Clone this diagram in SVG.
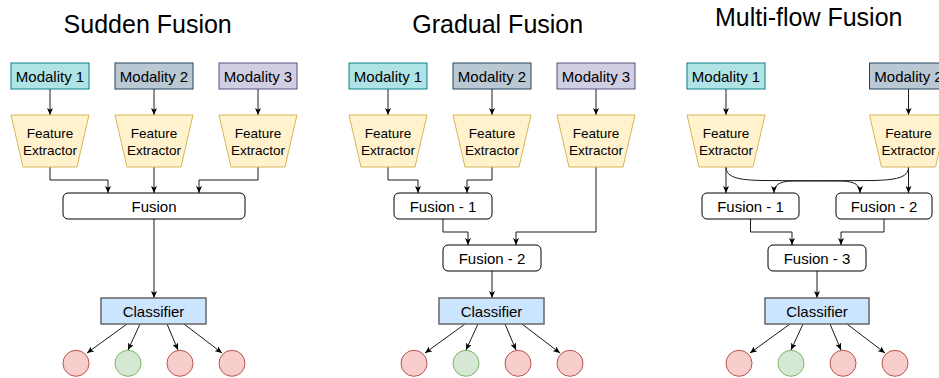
<svg xmlns="http://www.w3.org/2000/svg" width="939" height="378" viewBox="0 0 939 378">
<style>
text{font-family:"Liberation Sans",Arial,sans-serif;fill:#000;text-anchor:middle}
.title{font-size:25px}
.lbl{font-size:15px}
.fe{font-size:13.5px}
.m1{fill:#b0e3e6;stroke:#0e8088}
.m2{fill:#bac8d3;stroke:#23445d}
.m3{fill:#d0cee2;stroke:#56517e}
.trap{fill:#fff2cc;stroke:#d6b656}
.fus{fill:#fff;stroke:#000}
.cls{fill:#cce5ff;stroke:#666;stroke-width:1.5}
.red{fill:#f8cecc;stroke:#b85450}
.green{fill:#d5e8d4;stroke:#82b366}
.edge{fill:none;stroke:#1a1a1a;stroke-width:1;marker-end:url(#arr)}
</style>
<defs>
<marker id="arr" viewBox="0 0 7 6" markerWidth="7" markerHeight="6" refX="7" refY="3" orient="auto" markerUnits="userSpaceOnUse">
<path d="M0,0 L7,3 L0,6 L1.8,3 z" fill="#000"/>
</marker>
</defs>

<rect width="939" height="378" fill="#fff"/>

<text class="title" x="147.7" y="33">Sudden Fusion</text>
<text class="title" x="497.7" y="33">Gradual Fusion</text>
<text class="title" x="808.7" y="26">Multi-flow Fusion</text>

<g id="connectors">
<!-- Sudden -->
<path class="edge" d="M50,89 V115"/>
<path class="edge" d="M154,89 V115"/>
<path class="edge" d="M258,89 V115"/>
<path class="edge" d="M50,167 V180 H108 V193"/>
<path class="edge" d="M154,167 V193"/>
<path class="edge" d="M258,167 V180 H199 V193"/>
<path class="edge" d="M154,219 V298"/>
<path class="edge" d="M127,324 L87,353"/>
<path class="edge" d="M140,324 L128,350"/>
<path class="edge" d="M167,324 L178,350"/>
<path class="edge" d="M184,324 L222,353"/>
<!-- Gradual -->
<path class="edge" d="M388,89 V115"/>
<path class="edge" d="M492,89 V115"/>
<path class="edge" d="M596,89 V115"/>
<path class="edge" d="M388,167 V180 H418 V193"/>
<path class="edge" d="M492,167 V180 H467 V193"/>
<path class="edge" d="M596,167 V232 H516 V245"/>
<path class="edge" d="M443,219 V232 H468 V245"/>
<path class="edge" d="M492,271 V298"/>
<path class="edge" d="M465,324 L425,353"/>
<path class="edge" d="M478,324 L466,350"/>
<path class="edge" d="M505,324 L516,350"/>
<path class="edge" d="M522,324 L560,353"/>
<!-- Multi-flow -->
<path class="edge" d="M726,89 V115"/>
<path class="edge" d="M908.5,89 V115"/>
<path class="edge" d="M726,167 V193"/>
<path class="edge" d="M908.5,167 V193"/>
<path class="edge" d="M726,167 C726,178 740,180 762,180.5 L842,181 C855,181.5 860,185 860,193"/>
<path class="edge" d="M908.5,167 C908.5,178 895,180 873,180.5 L792,181 C779,181.5 774,185 774,193"/>
<path class="edge" d="M750.5,219 V232 H792 V245"/>
<path class="edge" d="M884,219 V232 H841 V245"/>
<path class="edge" d="M817,271 V298"/>
<path class="edge" d="M790,324 L750,353"/>
<path class="edge" d="M803,324 L791,350"/>
<path class="edge" d="M830,324 L841,350"/>
<path class="edge" d="M847,324 L885,353"/>
</g>

<!-- Sudden Fusion nodes -->
<g id="s-mod1"><rect class="m1" x="11" y="63" width="78" height="26"/><text class="lbl" x="50" y="81.5">Modality 1</text></g>
<g id="s-mod2"><rect class="m2" x="115" y="63" width="78" height="26"/><text class="lbl" x="154" y="81.5">Modality 2</text></g>
<g id="s-mod3"><rect class="m3" x="219" y="63" width="78" height="26"/><text class="lbl" x="258" y="81.5">Modality 3</text></g>
<g id="s-fe1"><path class="trap" d="M11,115 H89 L77,167 H23 Z"/><text class="fe" x="50" y="138">Feature</text><text class="fe" x="50" y="155">Extractor</text></g>
<g id="s-fe2"><path class="trap" d="M115,115 H193 L181,167 H127 Z"/><text class="fe" x="154" y="138">Feature</text><text class="fe" x="154" y="155">Extractor</text></g>
<g id="s-fe3"><path class="trap" d="M219,115 H297 L285,167 H231 Z"/><text class="fe" x="258" y="138">Feature</text><text class="fe" x="258" y="155">Extractor</text></g>
<g id="s-fusion"><rect class="fus" x="63" y="193" width="182" height="26" rx="5"/><text class="lbl" x="154" y="211.5">Fusion</text></g>
<g id="s-cls"><rect class="cls" x="101" y="298" width="105" height="26"/><text class="lbl" x="153.5" y="316.5">Classifier</text></g>
<g id="s-out1"><circle class="red" cx="76" cy="363.3" r="13"/></g>
<g id="s-out2"><circle class="green" cx="128" cy="363.3" r="13"/></g>
<g id="s-out3"><circle class="red" cx="180" cy="363.3" r="13"/></g>
<g id="s-out4"><circle class="red" cx="232" cy="363.3" r="13"/></g>

<!-- Gradual Fusion nodes -->
<g id="g-mod1"><rect class="m1" x="349" y="63" width="78" height="26"/><text class="lbl" x="388" y="81.5">Modality 1</text></g>
<g id="g-mod2"><rect class="m2" x="453" y="63" width="78" height="26"/><text class="lbl" x="492" y="81.5">Modality 2</text></g>
<g id="g-mod3"><rect class="m3" x="557" y="63" width="78" height="26"/><text class="lbl" x="596" y="81.5">Modality 3</text></g>
<g id="g-fe1"><path class="trap" d="M349,115 H427 L415,167 H361 Z"/><text class="fe" x="388" y="138">Feature</text><text class="fe" x="388" y="155">Extractor</text></g>
<g id="g-fe2"><path class="trap" d="M453,115 H531 L519,167 H465 Z"/><text class="fe" x="492" y="138">Feature</text><text class="fe" x="492" y="155">Extractor</text></g>
<g id="g-fe3"><path class="trap" d="M557,115 H635 L623,167 H569 Z"/><text class="fe" x="596" y="138">Feature</text><text class="fe" x="596" y="155">Extractor</text></g>
<g id="g-fusion1"><rect class="fus" x="394" y="193" width="98" height="26" rx="5"/><text class="lbl" x="443" y="211.5">Fusion - 1</text></g>
<g id="g-fusion2"><rect class="fus" x="443" y="245" width="98" height="26" rx="5"/><text class="lbl" x="492" y="263.5">Fusion - 2</text></g>
<g id="g-cls"><rect class="cls" x="439" y="298" width="105" height="26"/><text class="lbl" x="491.5" y="316.5">Classifier</text></g>
<g id="g-out1"><circle class="red" cx="414" cy="363.3" r="13"/></g>
<g id="g-out2"><circle class="green" cx="466" cy="363.3" r="13"/></g>
<g id="g-out3"><circle class="red" cx="518" cy="363.3" r="13"/></g>
<g id="g-out4"><circle class="red" cx="570" cy="363.3" r="13"/></g>

<!-- Multi-flow Fusion nodes -->
<g id="m-mod1"><rect class="m1" x="687" y="63" width="78" height="26"/><text class="lbl" x="726" y="81.5">Modality 1</text></g>
<g id="m-mod2"><rect class="m2" x="869.5" y="63" width="78" height="26"/><text class="lbl" x="908.5" y="81.5">Modality 2</text></g>
<g id="m-fe1"><path class="trap" d="M687,115 H765 L753,167 H699 Z"/><text class="fe" x="726" y="138">Feature</text><text class="fe" x="726" y="155">Extractor</text></g>
<g id="m-fe2"><path class="trap" d="M869.5,115 H947.5 L935.5,167 H881.5 Z"/><text class="fe" x="908.5" y="138">Feature</text><text class="fe" x="908.5" y="155">Extractor</text></g>
<g id="m-fusion1"><rect class="fus" x="702" y="193" width="97" height="26" rx="5"/><text class="lbl" x="750.5" y="211.5">Fusion - 1</text></g>
<g id="m-fusion2"><rect class="fus" x="836" y="193" width="96" height="26" rx="5"/><text class="lbl" x="884" y="211.5">Fusion - 2</text></g>
<g id="m-fusion3"><rect class="fus" x="768" y="245" width="98" height="26" rx="5"/><text class="lbl" x="817" y="263.5">Fusion - 3</text></g>
<g id="m-cls"><rect class="cls" x="765" y="298" width="104" height="26"/><text class="lbl" x="817" y="316.5">Classifier</text></g>
<g id="m-out1"><circle class="red" cx="739" cy="363.3" r="13"/></g>
<g id="m-out2"><circle class="green" cx="791" cy="363.3" r="13"/></g>
<g id="m-out3"><circle class="red" cx="843" cy="363.3" r="13"/></g>
<g id="m-out4"><circle class="red" cx="895" cy="363.3" r="13"/></g>
</svg>
